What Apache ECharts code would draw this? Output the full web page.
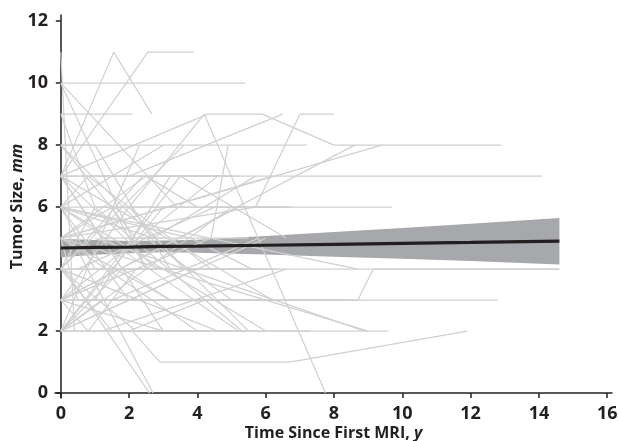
<!DOCTYPE html>
<html>
<head>
<meta charset="utf-8">
<script src="https://cdn.jsdelivr.net/npm/echarts@6/dist/echarts.min.js"></script>
<style>
  html, body { margin: 0; padding: 0; background: #fff; }
  #chart { width: 618px; height: 441px; }
</style>
</head>
<body>
<div id="chart"></div>
<script>
// tick labels
var xTicks = [0, 2, 4, 6, 8, 10, 12, 14, 16];
var yTicks = [0, 2, 4, 6, 8, 10, 12];

// individual patients: [years since first MRI, tumor size mm]
var patients = [
  [[0, 11], [0.4, 2]],
  [[0, 10], [5.4, 10]],
  [[0, 10], [1.7, 8], [3.4, 6]],
  [[0, 7], [1.55, 11], [2.67, 9]],
  [[0, 7], [2.55, 11], [3.9, 11]],
  [[0, 9], [2.1, 9]],
  [[0, 7], [4.3, 9], [5.9, 9], [8.0, 8], [12.9, 8]],
  [[0, 8], [7.2, 8]],
  [[0, 7], [14.1, 7]],
  [[0, 6], [9.7, 6]],
  [[0, 4], [14.6, 4]],
  [[0, 3], [12.8, 3]],
  [[0, 2], [9.6, 2]],
  [[0.3, 5], [2.7, 0]],
  [[0.1, 4], [2.6, 0]],
  [[0, 2], [2.1, 2], [2.9, 1], [6.7, 1], [11.9, 2]],
  [[2, 6], [4.2, 9], [7.75, 0]],
  [[0, 5], [5.7, 6], [7.0, 9], [8.0, 9]],
  [[2, 7], [6.5, 9]],
  [[0, 3], [8.6, 8]],
  [[0, 5], [9.4, 8]],
  [[0, 3], [4.4, 5], [4.9, 8]],
  [[0, 3], [8.7, 3], [9.15, 4], [14.6, 4]],
  [[0, 6], [8.7, 4]],
  [[0, 5], [9.0, 2]],
  [[1, 5], [8.9, 2]],
  [[0, 4], [6.4, 4]],
  [[0, 7], [6.2, 3]],
  [[0, 8], [5.5, 2]],
  [[0, 6], [5.2, 2]],
  [[0, 5], [4.0, 2], [5.0, 2]],
  [[0, 2], [3.5, 7], [5.0, 7]],
  [[0, 2], [5.0, 6]],
  [[0, 3], [4.6, 7]],
  [[0, 4], [3.6, 8]],
  [[0, 2], [2.3, 8]],
  [[0, 7], [3.0, 2]],
  [[0, 6], [2.0, 3], [4.5, 3]],
  [[0, 4], [2.4, 7], [4.8, 7]],
  [[0, 5], [3.2, 3], [6.0, 3]],
  [[0, 3], [2.0, 6], [3.6, 4]],
  [[0, 2], [4.0, 4]],
  [[0, 4], [1.5, 2], [3.8, 2]],
  [[0, 6], [1.0, 4], [5.2, 4]],
  [[0, 8], [2.2, 5], [5.5, 5]],
  [[0, 7], [1.2, 5], [3.0, 5]],
  [[0, 2], [1.8, 4], [3.2, 3]],
  [[0, 3], [3.0, 2], [5.4, 2]],
  [[0, 5], [2.5, 7], [4.0, 6], [6.5, 6]],
  [[0, 4], [1.0, 6], [3.3, 6]],
  [[0, 7], [2.8, 4]],
  [[0, 6], [3.0, 8]],
  [[0, 2], [6.0, 5]],
  [[0, 3], [5.2, 6], [6.6, 6]],
  [[0, 7], [3.5, 7], [6.6, 5]],
  [[0, 6], [6.0, 2]],
  [[0, 5], [1.5, 6], [2.5, 4]],
  [[0, 3], [0.8, 2], [2.2, 4], [3.5, 4]],
  [[0, 8], [1.0, 8], [3.2, 4]],
  [[0, 6], [0.8, 7], [2.0, 7]],
  [[0, 9], [1.0, 6]],
  [[0, 10], [2.5, 4]],
  [[0, 2], [1.2, 3], [4.8, 3]],
  [[0, 4], [2.2, 2], [4.5, 2]],
  [[0, 5], [0.5, 3], [2.5, 3]],
  [[0, 6], [3.8, 5], [5.6, 4]],
  [[0, 5], [6.2, 7]],
  [[0, 2], [3.0, 6], [4.0, 6]],
  [[1.0, 6], [5.3, 2]],
  [[0.5, 4], [4.5, 6], [6.8, 6]],
  [[1.5, 3], [5.8, 5]],
  [[2.0, 2], [4.2, 3], [7.0, 3]],
  [[0.8, 7], [4.4, 4], [6.0, 4]],
  [[1.2, 2], [6.6, 4]],
  [[2.5, 5], [5.0, 3], [8.5, 3]],
  [[0, 6], [2.7, 5], [5.7, 7]],
  [[1, 3], [3.2, 7], [5.2, 7]],
  [[0, 4], [4.6, 2], [7.3, 2]]
];

// fitted mean and 95% band
var fitT  = [0, 1, 2, 3, 4, 6, 8, 10, 12, 14.6];
var fitMean = [4.68, 4.70, 4.71, 4.73, 4.74, 4.77, 4.80, 4.83, 4.86, 4.90];
var fitLo = [4.38, 4.46, 4.51, 4.54, 4.53, 4.47, 4.40, 4.33, 4.26, 4.15];
var fitHi = [4.98, 4.94, 4.91, 4.92, 4.95, 5.07, 5.20, 5.33, 5.46, 5.65];

var ink = '#231f20';
var chart = echarts.init(document.getElementById('chart'));

var series = patients.map(function (p) {
  return {
    type: 'line',
    data: p,
    showSymbol: false,
    silent: true,
    lineStyle: { color: '#d0d0d0', width: 1.2 }
  };
});

// band drawn as one polygon through the axis scales
series.push({
  type: 'custom',
  silent: true,
  data: fitT.map(function (t, i) { return [t, fitLo[i], fitHi[i]]; }),
  encode: { x: 0, y: [1, 2] },
  renderItem: function (params, api) {
    if (params.dataIndex !== 0) return;
    var upper = [], lower = [];
    for (var i = 0; i < fitT.length; i++) {
      upper.push(api.coord([fitT[i], fitHi[i]]));
      lower.unshift(api.coord([fitT[i], fitLo[i]]));
    }
    return {
      type: 'polygon',
      shape: { points: upper.concat(lower) },
      style: { fill: '#a7a8ab' }
    };
  }
});
series.push({
  type: 'line',
  data: fitT.map(function (t, i) { return [t, fitMean[i]]; }),
  showSymbol: false,
  silent: true,
  lineStyle: { color: ink, width: 3.2 }
});

var labelStyle = { color: ink, fontSize: 18, fontWeight: 'bold', fontFamily: 'Open Sans' };
var nameRich = {
  b: { color: ink, fontSize: 16, fontWeight: 'bold', fontFamily: 'Open Sans' },
  i: { color: ink, fontSize: 16, fontWeight: 'bold', fontStyle: 'italic', fontFamily: 'Open Sans' }
};

chart.setOption({
  animation: false,
  grid: { left: 55, right: 6, top: 15, bottom: 43, outerBoundsMode: 'none' },
  xAxis: {
    type: 'value',
    min: -0.17,
    max: 16.14,
    splitLine: { show: false },
    axisLine: { lineStyle: { color: ink, width: 1.5 } },
    axisTick: { customValues: xTicks, length: 5, lineStyle: { color: ink, width: 1.5 } },
    axisLabel: Object.assign({ customValues: xTicks, margin: 7 }, labelStyle),
    name: '{b|Time Since First MRI, }{i|y}',
    nameLocation: 'middle',
    nameMoveOverlap: false,
    nameGap: 27,
    nameTextStyle: { rich: nameRich }
  },
  yAxis: {
    type: 'value',
    min: -0.16,
    max: 12.2,
    splitLine: { show: false },
    axisLine: { lineStyle: { color: ink, width: 1.5 } },
    axisTick: { customValues: yTicks, length: 5, lineStyle: { color: ink, width: 1.5 } },
    axisLabel: Object.assign({ customValues: yTicks, margin: 7 }, labelStyle),
    name: '{b|Tumor Size, }{i|mm}',
    nameLocation: 'middle',
    nameMoveOverlap: false,
    nameGap: 30,
    nameTextStyle: { rich: nameRich }
  },
  series: series
});
</script>
</body>
</html>
